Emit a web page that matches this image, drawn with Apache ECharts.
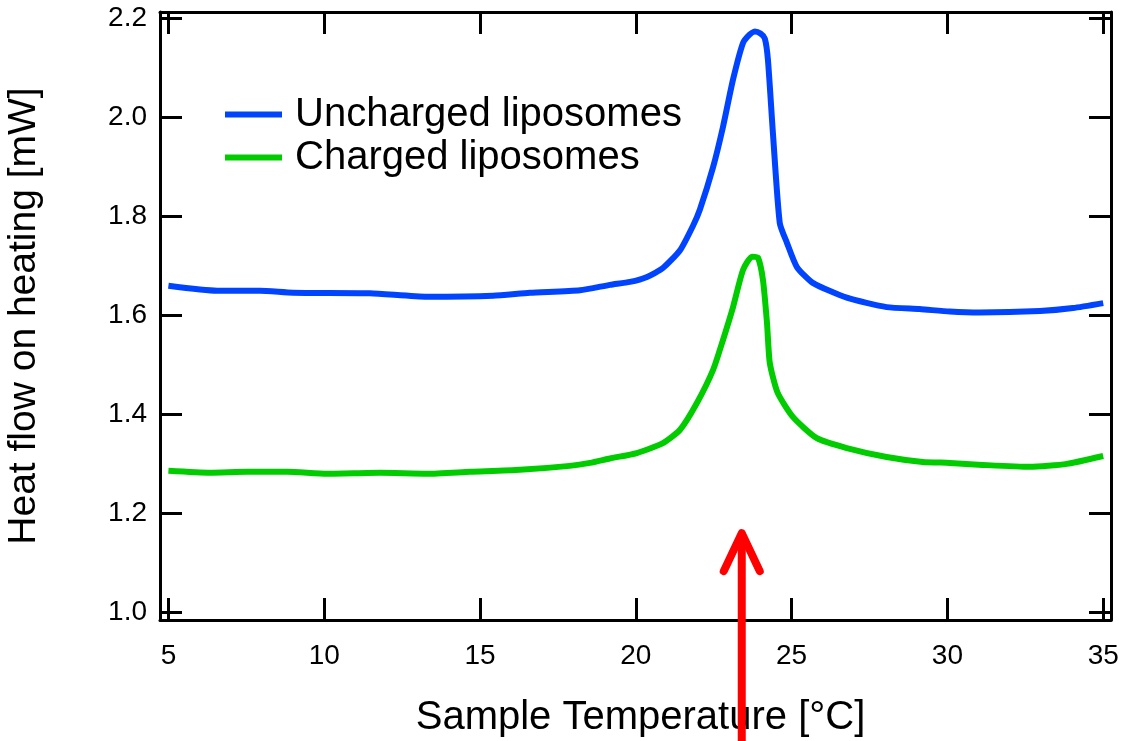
<!DOCTYPE html>
<html>
<head>
<meta charset="utf-8">
<script src="https://cdn.jsdelivr.net/npm/echarts@6/dist/echarts.min.js"></script>
<style>html,body{margin:0;padding:0;background:#fff}#c{width:1121px;height:741px}</style>
</head>
<body>
<div id="c"></div>
<script>
// Temperature [°C], heat flow [mW]
const unchargedT = [5.0,6.56,7.94,9.0,11.47,13.3,15.42,16.6,18.21,19.17,19.81,20.36,20.87,21.42,21.84,22.06,22.48,22.8,23.12,23.44,23.65,23.82,24.0,24.14,24.24,24.4,24.62,24.85,25.17,25.68,26.77,28.05,29.11,30.08,31.04,32.97,34.03,35.0];
const unchargedV = [1.660,1.650,1.650,1.646,1.645,1.638,1.640,1.646,1.651,1.662,1.668,1.678,1.696,1.732,1.782,1.815,1.900,1.982,2.077,2.151,2.168,2.174,2.170,2.160,2.117,1.969,1.787,1.747,1.698,1.666,1.636,1.617,1.613,1.608,1.606,1.609,1.615,1.625];
const chargedT = [5.0,6.34,7.53,8.81,10.09,11.79,13.3,14.68,16.28,17.88,18.53,19.17,20.03,20.87,21.42,21.96,22.48,22.8,23.12,23.44,23.73,23.92,24.08,24.21,24.3,24.55,25.04,25.81,26.77,28.05,29.21,30.08,31.13,32.64,33.83,35.0];
const chargedV = [1.286,1.282,1.284,1.284,1.280,1.282,1.280,1.284,1.288,1.296,1.302,1.311,1.322,1.342,1.369,1.423,1.490,1.551,1.617,1.692,1.719,1.717,1.672,1.585,1.504,1.444,1.395,1.352,1.332,1.314,1.304,1.302,1.298,1.294,1.300,1.316];
const xTicks = [5,10,15,20,25,30,35];
const yTicks = [1.0,1.2,1.4,1.6,1.8,2.0,2.2];
const seriesNames = ['Uncharged liposomes','Charged liposomes'];
const arrowT = 23.4;      // arrow position on temperature axis
const arrowTipV = 1.16;   // arrow tip on heat-flow axis

const zip = (a,b) => a.map((v,i)=>[v,b[i]]);
const FONT = 'Liberation Sans, Arial, sans-serif';
const chart = echarts.init(document.getElementById('c'));

const axisCommon = {
  axisLine:{show:true,onZero:false,lineStyle:{color:'#000',width:3}},
  axisTick:{show:true,inside:true,length:22,lineStyle:{color:'#000',width:3}},
  splitLine:{show:false}
};
chart.setOption({
  animation:false,
  backgroundColor:'#fff',
  grid:{left:160,right:10,top:12,bottom:121,containLabel:false,outerBoundsMode:'none'},
  legend:{
    orient:'vertical',left:225,top:93,itemGap:0,padding:0,
    icon:'rect',itemWidth:57,itemHeight:6,
    data:seriesNames,
    textStyle:{fontFamily:FONT,fontSize:40,color:'#000',lineHeight:43,padding:[0,0,0,8]}
  },
  xAxis:[
    Object.assign({type:'value',position:'bottom',min:4.73,max:35.25,
      name:'Sample Temperature [°C]',nameLocation:'middle',nameGap:78,
      nameTextStyle:{fontFamily:FONT,fontSize:40,color:'#000',padding:[0,0,0,10]},
      axisLabel:{show:true,customValues:xTicks,margin:22,fontFamily:FONT,fontSize:28,color:'#000'}
    },axisCommon,{axisTick:Object.assign({},axisCommon.axisTick,{customValues:xTicks})}),
    Object.assign({type:'value',position:'top',min:4.73,max:35.25,
      axisLabel:{show:false}
    },axisCommon,{axisTick:Object.assign({},axisCommon.axisTick,{customValues:xTicks})})
  ],
  yAxis:[
    Object.assign({type:'value',position:'left',min:0.9844,max:2.2136,
      name:'Heat flow on heating [mW]',nameLocation:'middle',nameGap:116,
      nameTextStyle:{fontFamily:FONT,fontSize:39,color:'#000'},
      axisLabel:{show:true,customValues:yTicks,margin:13,fontFamily:FONT,fontSize:28,color:'#000',
        formatter:v=>v.toFixed(1)}
    },axisCommon,{axisTick:Object.assign({},axisCommon.axisTick,{customValues:yTicks})}),
    Object.assign({type:'value',position:'right',min:0.9844,max:2.2136,
      axisLabel:{show:false}
    },axisCommon,{axisTick:Object.assign({},axisCommon.axisTick,{customValues:yTicks})})
  ],
  series:[
    {name:seriesNames[0],type:'line',data:zip(unchargedT,unchargedV),smooth:0.2,showSymbol:false,
     itemStyle:{color:'#0044ff'},lineStyle:{color:'#0044ff',width:6,join:'round'}},
    {name:seriesNames[1],type:'line',data:zip(chargedT,chargedV),smooth:0.2,showSymbol:false,
     itemStyle:{color:'#00cc00'},lineStyle:{color:'#00cc00',width:6,join:'round'}}
  ]
});

// red arrow drawn from data position
const tip = chart.convertToPixel({xAxisIndex:0,yAxisIndex:0},[arrowT,arrowTipV]);
const H = chart.getHeight();
const arrowStyle = {stroke:'#ff0000',lineWidth:8,lineCap:'round',lineJoin:'round',fill:null};
chart.setOption({
  graphic:[
    {type:'line',z:100,shape:{x1:tip[0],y1:tip[1]+4,x2:tip[0],y2:H+10},style:Object.assign({},arrowStyle,{lineCap:'butt'})},
    {type:'polyline',z:100,shape:{points:[[tip[0]-18,tip[1]+38],[tip[0],tip[1]],[tip[0]+18,tip[1]+38]]},style:arrowStyle}
  ]
});
</script>
</body>
</html>
